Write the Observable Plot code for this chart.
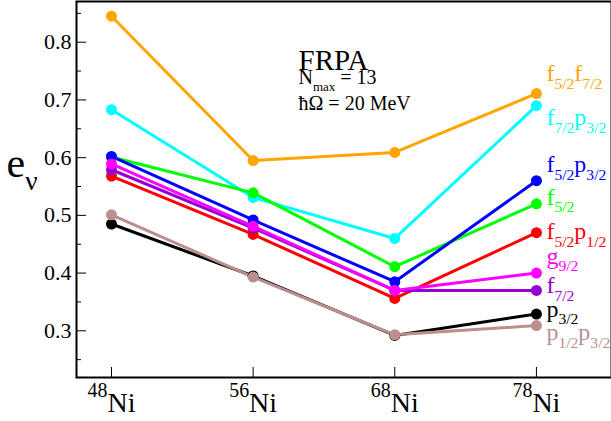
<!DOCTYPE html>
<html>
<head>
<meta charset="utf-8">
<script src="https://cdn.jsdelivr.net/npm/d3@7"></script>
<script src="https://cdn.jsdelivr.net/npm/@observablehq/plot@0.6"></script>
<style>
  html, body { margin: 0; padding: 0; background: #fff; }
  #chart { width: 611px; height: 421px; }
  #chart svg, #chart svg text, #chart svg tspan { font-family: "Liberation Serif", Tinos, "Times New Roman", "DejaVu Serif", serif !important; }
</style>
</head>
<body>
<div id="chart"></div>
<script>
// ---- data ----
const massNumbers = ["48", "56", "68", "78"];            // nuclei: 48Ni, 56Ni, 68Ni, 78Ni
const seriesNames = ["f_{5/2}f_{7/2}", "f_{7/2}p_{3/2}", "f_{5/2}p_{3/2}", "f_{5/2}", "f_{5/2}p_{1/2}", "g_{9/2}", "f_{7/2}", "p_{3/2}", "p_{1/2}p_{3/2}"];
const f52f72 = [0.845, 0.595, 0.609, 0.711];
const f72p32 = [0.683, 0.531, 0.460, 0.690];
const f52p32 = [0.602, 0.492, 0.385, 0.560];
const f52    = [0.601, 0.539, 0.411, 0.520];
const f52p12 = [0.568, 0.467, 0.356, 0.470];
const g92    = [0.589, 0.481, 0.370, 0.400];
const f72    = [0.579, 0.478, 0.370, 0.370];
const p32    = [0.485, 0.395, 0.292, 0.329];
const p12p32 = [0.501, 0.393, 0.293, 0.309];
const seriesValues = [f52f72, f72p32, f52p32, f52, f52p12, g92, f72, p32, p12p32];
const yMajorTicks = [0.3, 0.4, 0.5, 0.6, 0.7, 0.8];
const yMinorTicks = [0.25, 0.35, 0.45, 0.55, 0.65, 0.75, 0.85];
const titleLines = ["FRPA", "N_{max} = 13", "ħΩ = 20 MeV"];
const yLabel = "e_{ν}";

// ---- styles ----
const colors = ["#ffa500", "#00ffff", "#0000ff", "#00ff00", "#ff0000", "#ff00ff", "#9400d3", "#000000", "#bc8f8f"];
const labelDy = [-20, 12, -16, -7, -1, -17, -5, -5, 7];
const drawOrder = [0, 1, 3, 2, 4, 6, 5, 7, 8];

const rows = [];
drawOrder.forEach(s => seriesValues[s].forEach((v, i) => rows.push({s, series: seriesNames[s], i, v})));
const ends = seriesNames.map((name, s) => ({s, name, i: 3, v: seriesValues[s][3]}));

const serif = "Liberation Serif, Tinos, Times New Roman, DejaVu Serif, serif";

const plot = Plot.plot({
  width: 611,
  height: 421,
  marginLeft: 76,
  marginTop: 1,
  marginRight: 0,
  marginBottom: 44,
  style: {background: "#fff", color: "#000"},
  x: {domain: [-0.247, 3.53]},
  y: {domain: [0.2191, 0.8705]},
  marks: [
    Plot.frame({stroke: "#000", strokeWidth: 2}),
    Plot.axisY({ticks: yMinorTicks, tickSize: -5, tickFormat: () => "", strokeWidth: 1, label: null}),
    Plot.axisY({ticks: yMajorTicks, tickSize: -10, tickPadding: 15, tickFormat: d => d.toFixed(1), fontSize: 22, label: null}),
    Plot.axisX({ticks: [0, 1, 2, 3], tickSize: -10, tickPadding: 25, tickFormat: i => "^{" + massNumbers[i] + "}Ni", fontSize: 28, label: null}),
    ...drawOrder.map(s => Plot.line(rows.filter(r => r.s === s), {x: "i", y: "v", stroke: colors[s], strokeWidth: 3})),
    ...drawOrder.map(s => Plot.dot(rows.filter(r => r.s === s), {x: "i", y: "v", r: 5.5, fill: colors[s], stroke: "none"})),
    ...ends.map(e => Plot.text([e], {x: "i", y: "v", text: "name", fill: colors[e.s], textAnchor: "start", dx: 10, dy: labelDy[e.s], fontSize: 24})),
    Plot.text([titleLines[0]], {frameAnchor: "top-left", dx: 222, dy: 47.5, text: d => d, fontSize: 29, textAnchor: "start"}),
    Plot.text([titleLines[1]], {frameAnchor: "top-left", dx: 222, dy: 68.5, text: d => d, fontSize: 20, textAnchor: "start"}),
    Plot.text([titleLines[2]], {frameAnchor: "top-left", dx: 222, dy: 94.5, text: d => d, fontSize: 20, textAnchor: "start"}),
    Plot.text([yLabel], {frameAnchor: "left", dx: -70, dy: -26, text: d => d, fontSize: 42, textAnchor: "start"})
  ]
});

document.getElementById("chart").appendChild(plot);

// rich text: _{sub} and ^{sup}
const root = plot.tagName.toLowerCase() === "svg" ? plot : plot.querySelector("svg");
root.style.fontFamily = serif;
const svg = d3.select(root);
svg.selectAll("text").attr("font-family", serif).style("font-family", serif);
svg.selectAll("text").each(function () {
  const el = this;
  const s = el.textContent;
  if (!/[_^]\{/.test(s)) return;
  const fs = parseFloat(getComputedStyle(el).fontSize) || 16;
  const tokens = [];
  const re = /([_^])\{([^}]*)\}|([^_^]+)/g;
  let m;
  while ((m = re.exec(s))) {
    if (m[3] !== undefined) tokens.push({t: m[3], k: "n"});
    else tokens.push({t: m[2], k: m[1] === "_" ? "sub" : "sup"});
  }
  while (el.firstChild) el.removeChild(el.firstChild);
  let cur = 0;
  tokens.forEach(tok => {
    const target = tok.k === "sub" ? 0.32 * fs : tok.k === "sup" ? -0.54 * fs : 0;
    const ts = document.createElementNS("http://www.w3.org/2000/svg", "tspan");
    ts.textContent = tok.t;
    if (target - cur !== 0) ts.setAttribute("dy", target - cur);
    if (tok.k === "sub") ts.setAttribute("font-size", (0.65 * fs).toFixed(1));
    if (tok.k === "sup") ts.setAttribute("font-size", (0.71 * fs).toFixed(1));
    cur = target;
    el.appendChild(ts);
  });
});
</script>
</body>
</html>
